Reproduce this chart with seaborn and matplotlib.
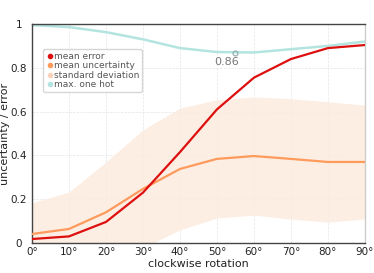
import numpy as np
import pandas as pd
import seaborn as sns
import matplotlib.pyplot as plt
from matplotlib.lines import Line2D

# data
angles = [0, 10, 20, 30, 40, 50, 60, 70, 80, 90]
mean_error = [0.018, 0.03, 0.096, 0.23, 0.415, 0.61, 0.755, 0.84, 0.89, 0.904]
mean_uncertainty = [0.041, 0.064, 0.14, 0.247, 0.338, 0.384, 0.397, 0.384, 0.37, 0.37]
std_uncertainty = [0.142, 0.169, 0.23, 0.27, 0.278, 0.27, 0.27, 0.275, 0.275, 0.26]
max_one_hot = [0.995, 0.986, 0.963, 0.93, 0.89, 0.872, 0.87, 0.885, 0.9, 0.92]
x_labels = ['0°', '10°', '20°', '30°', '40°', '50°', '60°', '70°', '80°', '90°']
y_ticks = [0, 0.2, 0.4, 0.6, 0.8, 1]
y_labels = ['0', '0.2', '0.4', '0.6', '0.8', '1']
annot_x, annot_y, annot_text = 55, 0.868, '0.86'

c_err = '#dd0f0f'
c_unc = '#fd9a5c'
c_std = '#fdebdf'
c_hot = '#b4e4e0'

df = pd.DataFrame({'angle': angles, 'error': mean_error,
                   'unc': mean_uncertainty, 'std': std_uncertainty,
                   'hot': max_one_hot})

sns.set_style('white')
plt.rcParams['font.family'] = ['DejaVu Sans']

fig = plt.figure(figsize=(3.74, 2.73), dpi=100)
ax = fig.add_axes([0.0856, 0.110, 0.890, 0.802])

lo = df['unc'] - df['std']
hi = df['unc'] + df['std']
ax.fill_between(df['angle'], lo, hi, color=c_std, lw=0, alpha=0.85, zorder=1)
sns.lineplot(data=df, x='angle', y='hot', color=c_hot, lw=1.8, ax=ax, zorder=2)
sns.lineplot(data=df, x='angle', y='unc', color=c_unc, lw=1.6, ax=ax, zorder=3)
sns.lineplot(data=df, x='angle', y='error', color=c_err, lw=1.6, ax=ax, zorder=4)

ax.plot([annot_x], [annot_y], 'o', ms=3.5, mfc='none', mec='#8aa8a6', mew=0.8, zorder=5)
ax.text(annot_x - 2.3, annot_y - 0.02, annot_text, ha='center', va='top',
        fontsize=8, color='#777777')

ax.set_xlim(0, 90)
ax.set_ylim(0, 1)
ax.set_xticks(angles)
ax.set_xticklabels(x_labels)
ax.set_yticks(y_ticks)
ax.set_yticklabels(y_labels, ha='center')
ax.tick_params(labelsize=7.5, length=0, colors='#222222')
ax.tick_params(axis='x', pad=3)
ax.tick_params(axis='y', pad=9.4)
ax.set_xlabel('clockwise rotation', fontsize=8, labelpad=1, color='#222222')
ax.set_ylabel('uncertainty / error', fontsize=8, color='#222222')
ax.yaxis.set_label_coords(-0.066, 0.5)
ax.grid(True, ls='--', lw=0.5, color='#e6e6e6')
for s in ['left', 'bottom', 'top']:
    ax.spines[s].set_color('#444444')
    ax.spines[s].set_linewidth(1.0)
ax.spines['right'].set_color('#cccccc')
ax.spines['right'].set_linewidth(1.0)

handles = [Line2D([], [], marker='o', ls='', ms=3, color=c_err),
           Line2D([], [], marker='o', ls='', ms=3, color=c_unc),
           Line2D([], [], marker='o', ls='', ms=3, color='#f9d2bc'),
           Line2D([], [], marker='o', ls='', ms=3, color=c_hot)]
ax.legend(handles, ['mean error', 'mean uncertainty', 'standard deviation', 'max. one hot'],
          loc='upper left', bbox_to_anchor=(0.02, 0.905), fontsize=6.5, frameon=True,
          handletextpad=0.1, handlelength=0.8, labelspacing=0.05, borderpad=0.3,
          labelcolor='#555555', edgecolor='#cccccc', fancybox=True)

plt.savefig('out.png', dpi=100)
